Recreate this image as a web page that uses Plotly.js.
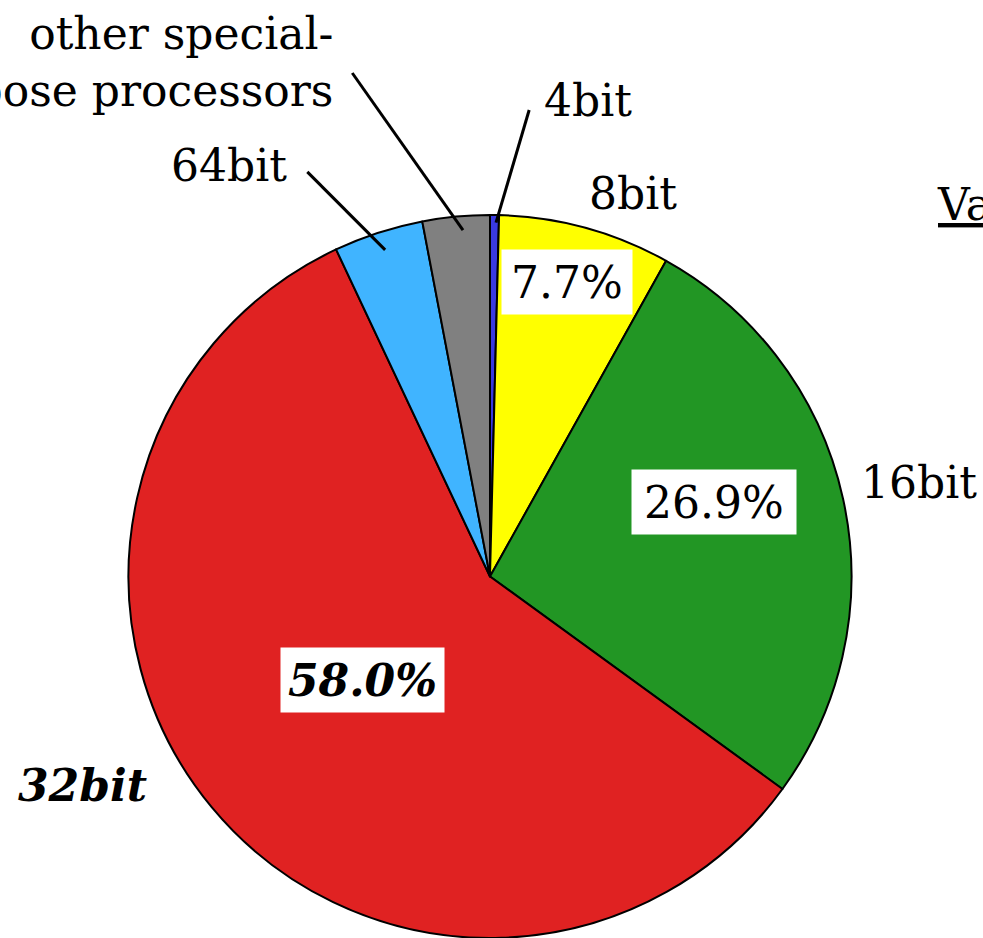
<!DOCTYPE html>
<html>
<head>
<meta charset="utf-8">
<script src="https://cdn.plot.ly/plotly-3.0.1.min.js"></script>
<style>html,body{margin:0;padding:0;background:#fff;}#chart{width:983px;height:938px;}</style>
</head>
<body>
<div id="chart"></div>
<script>
// ---- data ----
const labels = ['4bit', '8bit', '16bit', '32bit', '64bit', 'other special-purpose processors'];
const values = [0.4, 7.7, 26.9, 58.0, 4.0, 3.0];
const colors = ['#3A3AE0', '#FFFF00', '#229624', '#E02222', '#40B4FF', '#808080'];
const outerText = ['4bit', '8bit', '16bit', '<b><i>32bit</i></b>', '64bit', 'other special-<br>purpose processors'];
const showPct = [false, true, true, true, false, false];
const titleText = 'Value';

// ---- layout geometry ----
const W = 983, H = 938;
const dom = {x: [128 / W, 852 / W], y: [0, 723 / H]};
const cx = (dom.x[0] + dom.x[1]) / 2 * W;
const cy = (1 - (dom.y[0] + dom.y[1]) / 2) * H;
const R = Math.min((dom.x[1] - dom.x[0]) * W, (dom.y[1] - dom.y[0]) * H) / 2;
const total = values.reduce((a, b) => a + b, 0);
const mids = [];
let acc = 0;
values.forEach(v => { mids.push((acc + v / 2) / total * 360); acc += v; });
function pt(deg, rf) {
  const t = deg * Math.PI / 180;
  return {x: (cx + rf * R * Math.sin(t)) / W, y: 1 - (cy - rf * R * Math.cos(t)) / H};
}

const FONT = 'DejaVu Serif';
const FS = 44;

// label placement (angle offset from slice mid-angle, radius factor)
const pctPlace = {1: {dA: -0.65, rf: 0.841, w: 128}, 2: {dA: -6.0, rf: 0.653, w: 162}, 3: {dA: 0.4, rf: 0.454, w: 161}};
const outerPlace = [
  {dA: 10.9, rf: 1.344, xa: 'center'},
  {dA: 5.1, rf: 1.131, xa: 'center'},
  {dA: 0.1, rf: 1.214, xa: 'center'},
  {dA: 12.4, rf: 1.267, xa: 'center'},
  {dA: -14.4, rf: 1.347, xa: 'center'},
  {dA: -11.4, rf: 1.486, xa: 'right'}
];
const leaders = {0: [0.25, 0.979, 4.08, 1.295], 4: [0.2, 0.949, -6.3, 1.228], 5: [0.94, 0.961, -9.9, 1.444]};

const annotations = [];
const shapes = [];
values.forEach((v, i) => {
  if (showPct[i]) {
    const p = pctPlace[i];
    const q = pt(mids[i] + p.dA, p.rf);
    let txt = v.toFixed(1) + '%';
    if (i === 3) txt = '<b><i>' + txt + '</i></b>';
    annotations.push({x: q.x, y: q.y, xref: 'paper', yref: 'paper', text: txt, showarrow: false,
      xanchor: 'center', yanchor: 'middle', bgcolor: '#ffffff', width: p.w, height: 62,
      font: {family: FONT, size: FS, color: '#000'}});
  }
  const o = outerPlace[i];
  const q = pt(mids[i] + o.dA, o.rf);
  annotations.push({x: q.x, y: q.y, xref: 'paper', yref: 'paper', text: outerText[i], showarrow: false,
    xanchor: o.xa, yanchor: 'middle', align: o.xa === 'right' ? 'right' : 'center',
    font: {family: FONT, size: FS, color: '#000'}});
  if (leaders[i]) {
    const L = leaders[i];
    const a = pt(mids[i] + L[0], L[1]);
    const b = pt(mids[i] + L[2], L[3]);
    shapes.push({type: 'line', xref: 'paper', yref: 'paper', x0: a.x, y0: a.y, x1: b.x, y1: b.y,
      line: {color: '#000', width: 3}});
  }
});
annotations.push({x: 935 / W, y: 1 - 204 / H, xref: 'paper', yref: 'paper', text: '<u>' + titleText + '</u>',
  showarrow: false, xanchor: 'left', yanchor: 'middle', font: {family: FONT, size: FS, color: '#000'}});

const trace = {
  type: 'pie', labels: labels, values: values, sort: false, direction: 'clockwise', rotation: 0,
  marker: {colors: colors, line: {color: '#000', width: 2}},
  textinfo: 'none', hoverinfo: 'label+percent', domain: dom, showlegend: false
};

Plotly.newPlot('chart', [trace], {
  width: W, height: H, margin: {l: 0, r: 0, t: 0, b: 0},
  paper_bgcolor: '#fff', plot_bgcolor: '#fff', showlegend: false,
  annotations: annotations, shapes: shapes
}, {staticPlot: true});
</script>
</body>
</html>
